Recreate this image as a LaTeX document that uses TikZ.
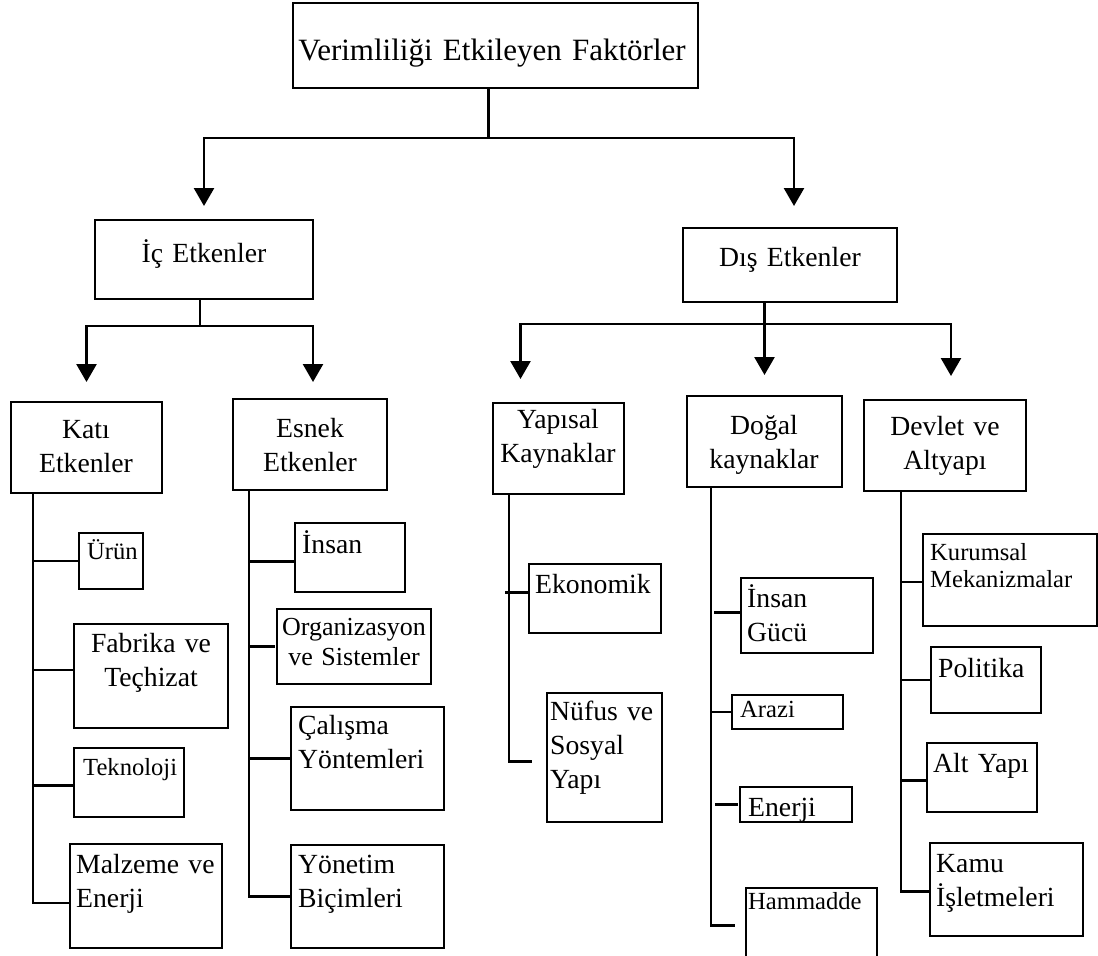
\documentclass[tikz,border=0pt]{standalone}
\usepackage{fontspec}
\setmainfont{Liberation Serif}
\usetikzlibrary{arrows.meta,calc}
\begin{document}
\begin{tikzpicture}[
  x=1pt, y=-1pt,
  box/.style={draw, line width=2.6pt, anchor=north west, inner sep=0pt, outer sep=0pt},
  conn/.style={line width=2.6pt},
  arr/.style={conn, -{Triangle[width=20pt,length=18pt]}},
  txt/.style={inner sep=0pt, text width=#1, align=left},
  txt/.default=200pt,
  big/.style={font=\fontsize{31}{36}\selectfont},
  mid/.style={font=\fontsize{27.7}{34}\selectfont},
  sml/.style={font=\fontsize{24.6}{27}\selectfont},
  orgf/.style={font=\fontsize{26}{30}\selectfont},
]
\useasboundingbox (0,0) rectangle (1098,956);
% top levels
\node[box, minimum width=405pt, minimum height=85pt] (title) at (293,3) {};
\node[txt=400pt, align=center, anchor=base, big] (title-t) at (492,60) {Verimliliği Etkileyen Faktörler};
\node[box, minimum width=218pt, minimum height=79pt] (ic) at (95,220) {};
\node[txt, align=center, anchor=base, mid] (ic-t) at (204,262) {İç Etkenler};
\node[box, minimum width=214pt, minimum height=74pt] (dis) at (683,228) {};
\node[txt, align=center, anchor=base, mid] (dis-t) at (790,266) {Dış Etkenler};

\node[box, minimum width=151pt, minimum height=91pt] (kati) at (11,402) {};
\node[txt=150pt, align=center, anchor=base, mid] (kati-t) at (86,438) {Katı\\Etkenler};
\node[box, minimum width=154pt, minimum height=91pt] (esnek) at (233,399) {};
\node[txt=150pt, align=center, anchor=base, mid] (esnek-t) at (310,437) {Esnek\\Etkenler};
\node[box, minimum width=131pt, minimum height=91pt] (yapisal) at (493,403) {};
\node[txt=150pt, align=center, anchor=base, mid] (yapisal-t) at (558,428) {Yapısal\\Kaynaklar};
\node[box, minimum width=155pt, minimum height=91pt] (dogal) at (687,396) {};
\node[txt=150pt, align=center, anchor=base, mid] (dogal-t) at (764,434) {Doğal\\kaynaklar};
\node[box, minimum width=162pt, minimum height=91pt] (devlet) at (864,400) {};
\node[txt=160pt, align=center, anchor=base, mid] (devlet-t) at (945,435) {Devlet ve\\Altyapı};

% Kati etkenler
\node[box, minimum width=64pt, minimum height=56pt] (urun) at (79,533) {};
\node[txt, anchor=base west, sml] (urun-t) at (87,559) {Ürün};
\node[box, minimum width=154pt, minimum height=104pt] (fabrika) at (74,624) {};
\node[txt=150pt, align=center, anchor=base, mid] (fabrika-t) at (151,652) {Fabrika ve\\Teçhizat};
\node[box, minimum width=110pt, minimum height=69pt] (tekno) at (74,748) {};
\node[txt, anchor=base west, sml] (tekno-t) at (83,775) {Teknoloji};
\node[box, minimum width=152pt, minimum height=104pt] (malz) at (70,844) {};
\node[txt, anchor=base west, mid] (malz-t) at (76,873) {Malzeme ve\\Enerji};

% Esnek etkenler
\node[box, minimum width=110pt, minimum height=69pt] (insan1) at (295,523) {};
\node[txt, anchor=base west, mid] (insan1-t) at (302,553) {İnsan};
\node[box, minimum width=154pt, minimum height=75pt] (org) at (277,609) {};
\node[txt=150pt, align=center, anchor=base, orgf] (org-t) at (354,635) {Organizasyon\\ve Sistemler};
\node[box, minimum width=153pt, minimum height=103pt] (calisma) at (291,707) {};
\node[txt, anchor=base west, mid] (calisma-t) at (298,734) {Çalışma\\Yöntemleri};
\node[box, minimum width=153pt, minimum height=103pt] (yonetim) at (291,845) {};
\node[txt, anchor=base west, mid] (yonetim-t) at (298,873) {Yönetim\\Biçimleri};

% Yapisal kaynaklar
\node[box, minimum width=132pt, minimum height=69pt] (ekon) at (529,564) {};
\node[txt, anchor=base west, mid] (ekon-t) at (535,593) {Ekonomik};
\node[box, minimum width=115pt, minimum height=129pt] (nufus) at (547,693) {};
\node[txt, anchor=base west, mid] (nufus-t) at (550,720) {Nüfus ve\\Sosyal\\Yapı};

% Dogal kaynaklar
\node[box, minimum width=132pt, minimum height=75pt] (insan2) at (741,578) {};
\node[txt, anchor=base west, mid] (insan2-t) at (747,607) {İnsan\\Gücü};
\node[box, minimum width=111pt, minimum height=34pt] (arazi) at (732,695) {};
\node[txt, anchor=base west, sml] (arazi-t) at (740,717) {Arazi};
\node[box, minimum width=112pt, minimum height=35pt] (enerji) at (740,787) {};
\node[txt, anchor=base west, mid] (enerji-t) at (748,816) {Enerji};
\node[box, minimum width=131pt, minimum height=75pt] (ham) at (746,888) {};
\node[txt, anchor=base west, sml] (ham-t) at (748,909) {Hammadde};

% Devlet ve altyapi
\node[box, minimum width=174pt, minimum height=92pt] (kurum) at (923,534) {};
\node[txt, anchor=base west, sml] (kurum-t) at (930,560) {Kurumsal\\Mekanizmalar};
\node[box, minimum width=110pt, minimum height=66pt] (politika) at (931,647) {};
\node[txt, anchor=base west, mid] (politika-t) at (938,677) {Politika};
\node[box, minimum width=110pt, minimum height=69pt] (altyapi) at (927,743) {};
\node[txt, anchor=base west, mid] (altyapi-t) at (933,772) {Alt Yapı};
\node[box, minimum width=153pt, minimum height=93pt] (kamu) at (930,843) {};
\node[txt, anchor=base west, mid] (kamu-t) at (936,872) {Kamu\\İşletmeleri};

% arrows
\coordinate (top) at ([xshift=-7pt,yshift=-50pt]title.south);
\draw[conn] (title.south -| top) -- (top);
\draw[arr] (top) -| ([yshift=14pt]ic.north);
\draw[arr] (top) -| ([xshift=4pt,yshift=22pt]dis.north);

\coordinate (icb) at ([xshift=-4pt,yshift=-27pt]ic.south);
\draw[conn] (ic.south -| icb) -- (icb);
\draw[arr] (icb) -| ([yshift=20pt]kati.north);
\draw[arr] (icb) -| ([xshift=3pt,yshift=17pt]esnek.north);

\coordinate (disb) at ($(dis.south -| dogal.north)+(0,22)$);
\draw[arr] (dis.south -| disb) -- ([yshift=21pt]dogal.north);
\draw[arr] (disb) -| ([xshift=-38pt,yshift=24pt]yapisal.north);
\draw[arr] (disb) -| ([xshift=6pt,yshift=24pt]devlet.north);

% branch lines
\coordinate (katiS) at ([xshift=22pt]kati.south west);
\draw[conn] (katiS) |- ([yshift=-7pt]malz.west);
\draw[conn] (urun.west) -- (urun.west -| katiS);
\draw[conn] ([yshift=6pt]fabrika.west) -- ++(-41,0);
\draw[conn] ([yshift=-3pt]tekno.west) -- ++(-41,0);

\coordinate (esnekS) at ([xshift=16pt]esnek.south west);
\draw[conn] (esnekS) |- (yonetim.west);
\draw[conn] ([yshift=-4pt]insan1.west) -- ++(-46,0);
\draw[conn] (esnekS |- org.west) -- ++(26,0);
\draw[conn] (calisma.west) -- (calisma.west -| esnekS);

\coordinate (yapS) at ([xshift=16pt]yapisal.south west);
\draw[conn] (yapS) |- ([xshift=-15pt,yshift=-4pt]nufus.west);
\draw[conn] ([yshift=6pt]ekon.west) -- ++(-24,0);

\coordinate (dogalS) at ([xshift=24pt]dogal.south west);
\draw[conn] (dogalS) |- ([xshift=-11pt]ham.west);
\draw[conn] ([yshift=3pt]insan2.west) -- ++(-27,0);
\draw[conn] (arazi.west) -- (arazi.west -| dogalS);
\draw[conn] ([xshift=-2pt]enerji.west) -- ++(-23,0);

\coordinate (devletS) at ([xshift=37pt]devlet.south west);
\draw[conn] (devletS) |- ([yshift=-2pt]kamu.west);
\draw[conn] ([yshift=-2pt]kurum.west) -- ++(-22,0);
\draw[conn] (politika.west) -- (politika.west -| devletS);
\draw[conn] ([yshift=-3pt]altyapi.west) -- ++(-26,0);
\end{tikzpicture}
\end{document}
